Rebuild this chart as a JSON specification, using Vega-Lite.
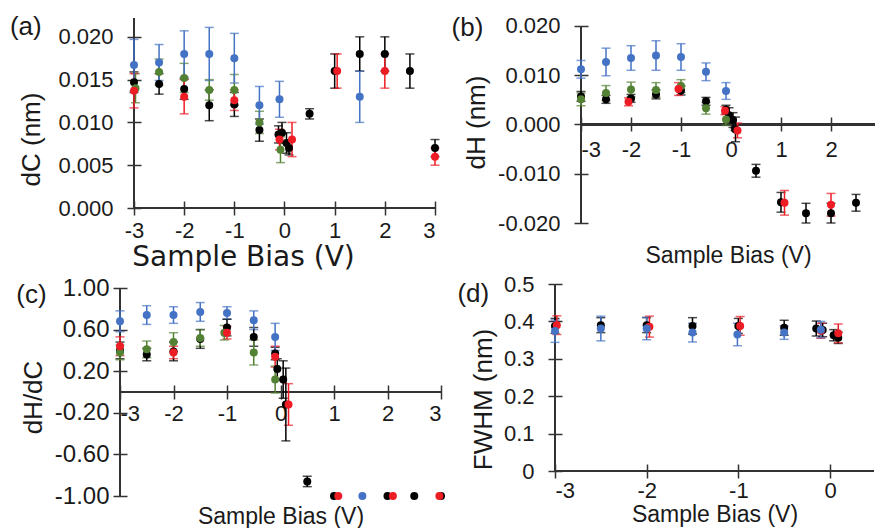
{
  "$schema": "https://vega.github.io/schema/vega-lite/v6.json",
  "padding": {"left": 9, "top": 14, "right": 0, "bottom": 0},
  "background": "white",
  "config": {
    "view": {"stroke": null},
    "axis": {"grid": false, "domain": false, "tickColor": "#333333", "tickWidth": 1.5, "tickSize": 14, "offset": -7,
      "labelFont": "Liberation Sans", "labelFontSize": 22, "labelColor": "#1a1a1a",
      "titleFont": "Liberation Sans", "titleFontSize": 26, "titleFontWeight": "normal", "titleColor": "#1a1a1a"},
    "title": {"font": "Liberation Sans", "fontSize": 26, "fontWeight": "normal", "color": "#1a1a1a", "anchor": "start", "frame": "bounds"},
    "circle": {"size": 64, "opacity": 1},
    "rule": {"color": "#333333", "strokeWidth": 1.5}
  },
  "datasets": {
    "a": [
      {"s": "k", "x": -3, "y": 0.0147, "e": 0.0012}, {"s": "k", "x": -2.5, "y": 0.0145, "e": 0.0012}, {"s": "k", "x": -2, "y": 0.0139, "e": 0.0012},
      {"s": "k", "x": -1.5, "y": 0.012, "e": 0.0018}, {"s": "k", "x": -1, "y": 0.0121, "e": 0.0014}, {"s": "k", "x": -0.5, "y": 0.0091, "e": 0.0013},
      {"s": "k", "x": -0.12, "y": 0.0086, "e": 0.001}, {"s": "k", "x": -0.05, "y": 0.0088, "e": 0.0012}, {"s": "k", "x": 0.04, "y": 0.0076, "e": 0.0012},
      {"s": "k", "x": 0.09, "y": 0.007, "e": 0.0008}, {"s": "k", "x": 0.5, "y": 0.011, "e": 0.0006}, {"s": "k", "x": 1, "y": 0.016, "e": 0.002},
      {"s": "k", "x": 1.5, "y": 0.018, "e": 0.002}, {"s": "k", "x": 2, "y": 0.018, "e": 0.002}, {"s": "k", "x": 2.5, "y": 0.016, "e": 0.002},
      {"s": "k", "x": 3, "y": 0.007, "e": 0.001},
      {"s": "g", "x": -2.97, "y": 0.014, "e": 0.0017}, {"s": "g", "x": -2.5, "y": 0.0159, "e": 0.0015}, {"s": "g", "x": -2, "y": 0.0152, "e": 0.0017},
      {"s": "g", "x": -1.5, "y": 0.0138, "e": 0.0012}, {"s": "g", "x": -1, "y": 0.0138, "e": 0.0018}, {"s": "g", "x": -0.5, "y": 0.01, "e": 0.0013},
      {"s": "g", "x": -0.08, "y": 0.0068, "e": 0.0015},
      {"s": "r", "x": -3, "y": 0.0137, "e": 0.002}, {"s": "r", "x": -2, "y": 0.013, "e": 0.002}, {"s": "r", "x": -1, "y": 0.0126, "e": 0.0012},
      {"s": "r", "x": -0.1, "y": 0.008, "e": 0.0012}, {"s": "r", "x": 0.15, "y": 0.008, "e": 0.002}, {"s": "r", "x": 1.05, "y": 0.016, "e": 0.002},
      {"s": "r", "x": 2, "y": 0.016, "e": 0.002}, {"s": "r", "x": 3, "y": 0.006, "e": 0.001},
      {"s": "b", "x": -3, "y": 0.0167, "e": 0.003}, {"s": "b", "x": -2.5, "y": 0.017, "e": 0.0021}, {"s": "b", "x": -2, "y": 0.018, "e": 0.0027},
      {"s": "b", "x": -1.5, "y": 0.018, "e": 0.0031}, {"s": "b", "x": -1, "y": 0.0175, "e": 0.0029}, {"s": "b", "x": -0.5, "y": 0.012, "e": 0.0022},
      {"s": "b", "x": -0.1, "y": 0.0127, "e": 0.0021}, {"s": "b", "x": 1.5, "y": 0.013, "e": 0.003}
    ],
    "b": [
      {"s": "k", "x": -3, "y": 0.0057, "e": 0.001}, {"s": "k", "x": -2.5, "y": 0.0051, "e": 0.0008}, {"s": "k", "x": -2, "y": 0.0053, "e": 0.0008},
      {"s": "k", "x": -1.5, "y": 0.0061, "e": 0.0009}, {"s": "k", "x": -1, "y": 0.0069, "e": 0.0009}, {"s": "k", "x": -0.5, "y": 0.0047, "e": 0.0008},
      {"s": "k", "x": -0.1, "y": 0.003, "e": 0.0009}, {"s": "k", "x": -0.04, "y": 0.0019, "e": 0.0015}, {"s": "k", "x": 0.04, "y": 0.0009, "e": 0.0015},
      {"s": "k", "x": 0.09, "y": -0.001, "e": 0.0025}, {"s": "k", "x": 0.5, "y": -0.0094, "e": 0.0013}, {"s": "k", "x": 1, "y": -0.0158, "e": 0.002},
      {"s": "k", "x": 1.5, "y": -0.018, "e": 0.002}, {"s": "k", "x": 2, "y": -0.018, "e": 0.002}, {"s": "k", "x": 2.5, "y": -0.0159, "e": 0.0017},
      {"s": "g", "x": -3, "y": 0.0051, "e": 0.0013}, {"s": "g", "x": -2.5, "y": 0.0064, "e": 0.0015}, {"s": "g", "x": -2, "y": 0.0071, "e": 0.0015},
      {"s": "g", "x": -1.5, "y": 0.007, "e": 0.0015}, {"s": "g", "x": -1, "y": 0.0078, "e": 0.0013}, {"s": "g", "x": -0.5, "y": 0.0033, "e": 0.0012},
      {"s": "g", "x": -0.1, "y": 0.001, "e": 0.0012},
      {"s": "r", "x": -2.05, "y": 0.0046, "e": 0.0008}, {"s": "r", "x": -1.05, "y": 0.0072, "e": 0.0013}, {"s": "r", "x": -0.12, "y": 0.0028, "e": 0.0008},
      {"s": "r", "x": 0.13, "y": -0.0012, "e": 0.0015}, {"s": "r", "x": 1.07, "y": -0.0159, "e": 0.0025}, {"s": "r", "x": 2, "y": -0.0163, "e": 0.0023},
      {"s": "b", "x": -3, "y": 0.0112, "e": 0.0018}, {"s": "b", "x": -2.5, "y": 0.0127, "e": 0.0028}, {"s": "b", "x": -2, "y": 0.0135, "e": 0.0025},
      {"s": "b", "x": -1.5, "y": 0.014, "e": 0.003}, {"s": "b", "x": -1, "y": 0.0137, "e": 0.0027}, {"s": "b", "x": -0.5, "y": 0.0107, "e": 0.0018},
      {"s": "b", "x": -0.1, "y": 0.0068, "e": 0.0017}
    ],
    "c": [
      {"s": "k", "x": -3, "y": 0.4, "e": 0.08}, {"s": "k", "x": -2.5, "y": 0.36, "e": 0.06}, {"s": "k", "x": -2, "y": 0.39, "e": 0.09},
      {"s": "k", "x": -1.5, "y": 0.51, "e": 0.09}, {"s": "k", "x": -1, "y": 0.62, "e": 0.08}, {"s": "k", "x": -0.5, "y": 0.53, "e": 0.09},
      {"s": "k", "x": -0.1, "y": 0.37, "e": 0.06}, {"s": "k", "x": -0.06, "y": 0.22, "e": 0.1}, {"s": "k", "x": 0.05, "y": 0.12, "e": 0.18},
      {"s": "k", "x": 0.1, "y": -0.12, "e": 0.35}, {"s": "k", "x": 0.5, "y": -0.86, "e": 0.05}, {"s": "k", "x": 1, "y": -1, "e": 0},
      {"s": "k", "x": 2, "y": -1, "e": 0}, {"s": "k", "x": 2.5, "y": -1, "e": 0}, {"s": "k", "x": 3, "y": -1, "e": 0},
      {"s": "g", "x": -3, "y": 0.38, "e": 0.07}, {"s": "g", "x": -2.5, "y": 0.41, "e": 0.08}, {"s": "g", "x": -2, "y": 0.48, "e": 0.09},
      {"s": "g", "x": -1.5, "y": 0.52, "e": 0.08}, {"s": "g", "x": -1.05, "y": 0.57, "e": 0.07}, {"s": "g", "x": -0.5, "y": 0.38, "e": 0.12},
      {"s": "g", "x": -0.1, "y": 0.12, "e": 0.13},
      {"s": "r", "x": -3, "y": 0.44, "e": 0.09}, {"s": "r", "x": -2, "y": 0.38, "e": 0.06}, {"s": "r", "x": -1, "y": 0.57, "e": 0.06},
      {"s": "r", "x": -0.1, "y": 0.34, "e": 0.1}, {"s": "r", "x": 0.15, "y": -0.12, "e": 0.2}, {"s": "r", "x": 1.08, "y": -1, "e": 0},
      {"s": "r", "x": 2.1, "y": -1, "e": 0}, {"s": "r", "x": 2.97, "y": -1, "e": 0},
      {"s": "b", "x": -3, "y": 0.68, "e": 0.1}, {"s": "b", "x": -2.5, "y": 0.74, "e": 0.09}, {"s": "b", "x": -2, "y": 0.74, "e": 0.08},
      {"s": "b", "x": -1.5, "y": 0.77, "e": 0.09}, {"s": "b", "x": -1, "y": 0.76, "e": 0.06}, {"s": "b", "x": -0.5, "y": 0.69, "e": 0.09},
      {"s": "b", "x": -0.1, "y": 0.53, "e": 0.13}, {"s": "b", "x": 1.53, "y": -1, "e": 0}
    ],
    "d": [
      {"s": "k", "x": -3, "y": 0.388, "e": 0.02}, {"s": "k", "x": -2.5, "y": 0.39, "e": 0.02}, {"s": "k", "x": -2, "y": 0.39, "e": 0.02},
      {"s": "k", "x": -1.5, "y": 0.388, "e": 0.022}, {"s": "k", "x": -1, "y": 0.388, "e": 0.02}, {"s": "k", "x": -0.5, "y": 0.383, "e": 0.02},
      {"s": "k", "x": -0.15, "y": 0.381, "e": 0.02}, {"s": "k", "x": -0.08, "y": 0.377, "e": 0.018}, {"s": "k", "x": 0.04, "y": 0.363, "e": 0.015},
      {"s": "k", "x": 0.09, "y": 0.356, "e": 0.015},
      {"s": "r", "x": -2.98, "y": 0.39, "e": 0.025}, {"s": "r", "x": -1.97, "y": 0.386, "e": 0.028}, {"s": "r", "x": -0.98, "y": 0.388, "e": 0.025},
      {"s": "r", "x": -0.1, "y": 0.375, "e": 0.02}, {"s": "r", "x": 0.09, "y": 0.368, "e": 0.025},
      {"s": "b", "x": -3, "y": 0.374, "e": 0.03}, {"s": "b", "x": -2.5, "y": 0.381, "e": 0.033}, {"s": "b", "x": -2, "y": 0.381, "e": 0.03},
      {"s": "b", "x": -1.5, "y": 0.37, "e": 0.025}, {"s": "b", "x": -1.01, "y": 0.365, "e": 0.03}, {"s": "b", "x": -0.5, "y": 0.37, "e": 0.018},
      {"s": "b", "x": -0.1, "y": 0.378, "e": 0.022}
    ]
  },
  "spacing": 2,
  "vconcat": [
    {
      "spacing": 11,
      "hconcat": [
        {
          "width": 315, "height": 190,
          "data": {"name": "a"},
          "title": {"text": "(a)", "offset": -23, "dx": -9},
          "encoding": {
            "x": {"field": "x", "type": "quantitative", "scale": {"domain": [-3.279, 3], "nice": false, "zero": false},
              "axis": {"values": [-3, -2, -1, 0, 1, 2, 3], "labelExpr": "'' + datum.value", "labelPadding": 5,
                "title": "Sample Bias (V)", "titleFont": "DejaVu Sans", "titleFontSize": 28, "titleX": 123, "titlePadding": 2}},
            "y": {"field": "y", "type": "quantitative", "scale": {"domain": [0, 0.0222], "nice": false, "zero": false},
              "axis": {"values": [0, 0.005, 0.01, 0.015, 0.02], "labelExpr": "format(datum.value, '.3f')", "offset": -21, "labelPadding": 14,
                "title": "dC (nm)", "titlePadding": 13, "titleY": 121}},
            "color": {"field": "s", "type": "nominal", "scale": {"domain": ["k", "g", "r", "b"], "range": ["#000000", "#548235", "#EE1C25", "#4472C4"]}, "legend": null}
          },
          "layer": [
            {"mark": "rule", "encoding": {"x": {"datum": -3}, "y": {"datum": 0}, "y2": {"datum": 0.0222}, "color": {"value": "#333333"}}},
            {"mark": "rule", "encoding": {"x": {"datum": -3}, "x2": {"datum": 3}, "y": {"datum": 0}, "color": {"value": "#333333"}}},
            {"transform": [{"filter": "datum.e > 0"}], "mark": {"type": "errorbar", "ticks": {"size": 9}, "thickness": 1.5}, "encoding": {"yError": {"field": "e"}}},
            {"mark": "circle"}
          ]
        },
        {
          "width": 294, "height": 205,
          "data": {"name": "b"},
          "title": {"text": "(b)", "offset": -26, "dx": -12},
          "encoding": {
            "x": {"field": "x", "type": "quantitative", "scale": {"domain": [-3, 2.88], "nice": false, "zero": false},
              "axis": {"values": [-3, -2, -1, 0, 1, 2], "labelExpr": "'' + datum.value", "offset": -106, "labelPadding": 8,
                "title": "Sample Bias (V)", "titleFontSize": 23, "titlePadding": 84}},
            "y": {"field": "y", "type": "quantitative", "scale": {"domain": [-0.02, 0.02162], "nice": false, "zero": false},
              "axis": {"values": [-0.02, -0.01, 0, 0.01, 0.02], "labelExpr": "replace(format(datum.value, '.3f'), '\u2212', '-')", "labelPadding": 14,
                "title": "dH (nm)", "titlePadding": 8, "titleY": 104}},
            "color": {"field": "s", "type": "nominal", "scale": {"domain": ["k", "g", "r", "b"], "range": ["#000000", "#548235", "#EE1C25", "#4472C4"]}, "legend": null}
          },
          "layer": [
            {"mark": "rule", "encoding": {"x": {"datum": -3}, "y": {"datum": -0.02}, "y2": {"datum": 0.02}, "color": {"value": "#333333"}}},
            {"mark": "rule", "encoding": {"x": {"datum": -3}, "x2": {"datum": 2.88}, "y": {"datum": 0}, "color": {"value": "#333333"}}},
            {"transform": [{"filter": "datum.e > 0"}], "mark": {"type": "errorbar", "ticks": {"size": 9}, "thickness": 1.5}, "encoding": {"yError": {"field": "e"}}},
            {"mark": "circle"}
          ]
        }
      ]
    },
    {
      "spacing": 12,
      "hconcat": [
        {
          "width": 321, "height": 212,
          "data": {"name": "c"},
          "title": {"text": "(c)", "offset": -32, "dx": -4},
          "encoding": {
            "x": {"field": "x", "type": "quantitative", "scale": {"domain": [-3, 3], "nice": false, "zero": false},
              "axis": {"values": [-3, -2, -1, 0, 1, 2, 3], "labelExpr": "'' + datum.value", "offset": -111, "labelPadding": 4,
                "title": "Sample Bias (V)", "titleFontSize": 23, "titlePadding": 81}},
            "y": {"field": "y", "type": "quantitative", "scale": {"domain": [-1, 1.0385], "nice": false, "zero": false},
              "axis": {"values": [-1, -0.6, -0.2, 0.2, 0.6, 1], "labelExpr": "replace(format(datum.value, '.2f'), '\u2212', '-')", "labelFontSize": 24, "labelPadding": 4,
                "title": "dH/dC", "titlePadding": 8, "titleY": 113}},
            "color": {"field": "s", "type": "nominal", "scale": {"domain": ["k", "g", "r", "b"], "range": ["#000000", "#548235", "#EE1C25", "#4472C4"]}, "legend": null}
          },
          "layer": [
            {"mark": "rule", "encoding": {"x": {"datum": -3}, "y": {"datum": -1}, "y2": {"datum": 1}, "color": {"value": "#333333"}}},
            {"mark": "rule", "encoding": {"x": {"datum": -3}, "x2": {"datum": 3}, "y": {"datum": 0}, "color": {"value": "#333333"}}},
            {"transform": [{"filter": "datum.e > 0"}], "mark": {"type": "errorbar", "ticks": {"size": 9}, "thickness": 1.5}, "encoding": {"yError": {"field": "e"}}},
            {"mark": "circle"}
          ]
        },
        {
          "width": 319, "height": 187,
          "data": {"name": "d"},
          "title": {"text": "(d)", "offset": -34, "dx": -13},
          "encoding": {
            "x": {"field": "x", "type": "quantitative", "scale": {"domain": [-3, 0.48], "nice": false, "zero": false},
              "axis": {"values": [-3, -2, -1, 0], "labelExpr": "'' + datum.value", "labelPadding": 2,
                "title": "Sample Bias (V)", "titleFontSize": 23, "titlePadding": 2}},
            "y": {"field": "y", "type": "quantitative", "scale": {"domain": [0, 0.5], "nice": false, "zero": false},
              "axis": {"values": [0, 0.1, 0.2, 0.3, 0.4, 0.5], "labelExpr": "'' + datum.value", "labelPadding": 14,
                "title": "FWHM (nm)", "titlePadding": 7, "titleY": 115}},
            "color": {"field": "s", "type": "nominal", "scale": {"domain": ["k", "g", "r", "b"], "range": ["#000000", "#548235", "#EE1C25", "#4472C4"]}, "legend": null}
          },
          "layer": [
            {"mark": "rule", "encoding": {"x": {"datum": -3}, "y": {"datum": 0}, "y2": {"datum": 0.5}, "color": {"value": "#333333"}}},
            {"mark": "rule", "encoding": {"x": {"datum": -3}, "x2": {"datum": 0.48}, "y": {"datum": 0}, "color": {"value": "#333333"}}},
            {"transform": [{"filter": "datum.e > 0"}], "mark": {"type": "errorbar", "ticks": {"size": 9}, "thickness": 1.5}, "encoding": {"yError": {"field": "e"}}},
            {"mark": "circle"}
          ]
        }
      ]
    }
  ]
}
